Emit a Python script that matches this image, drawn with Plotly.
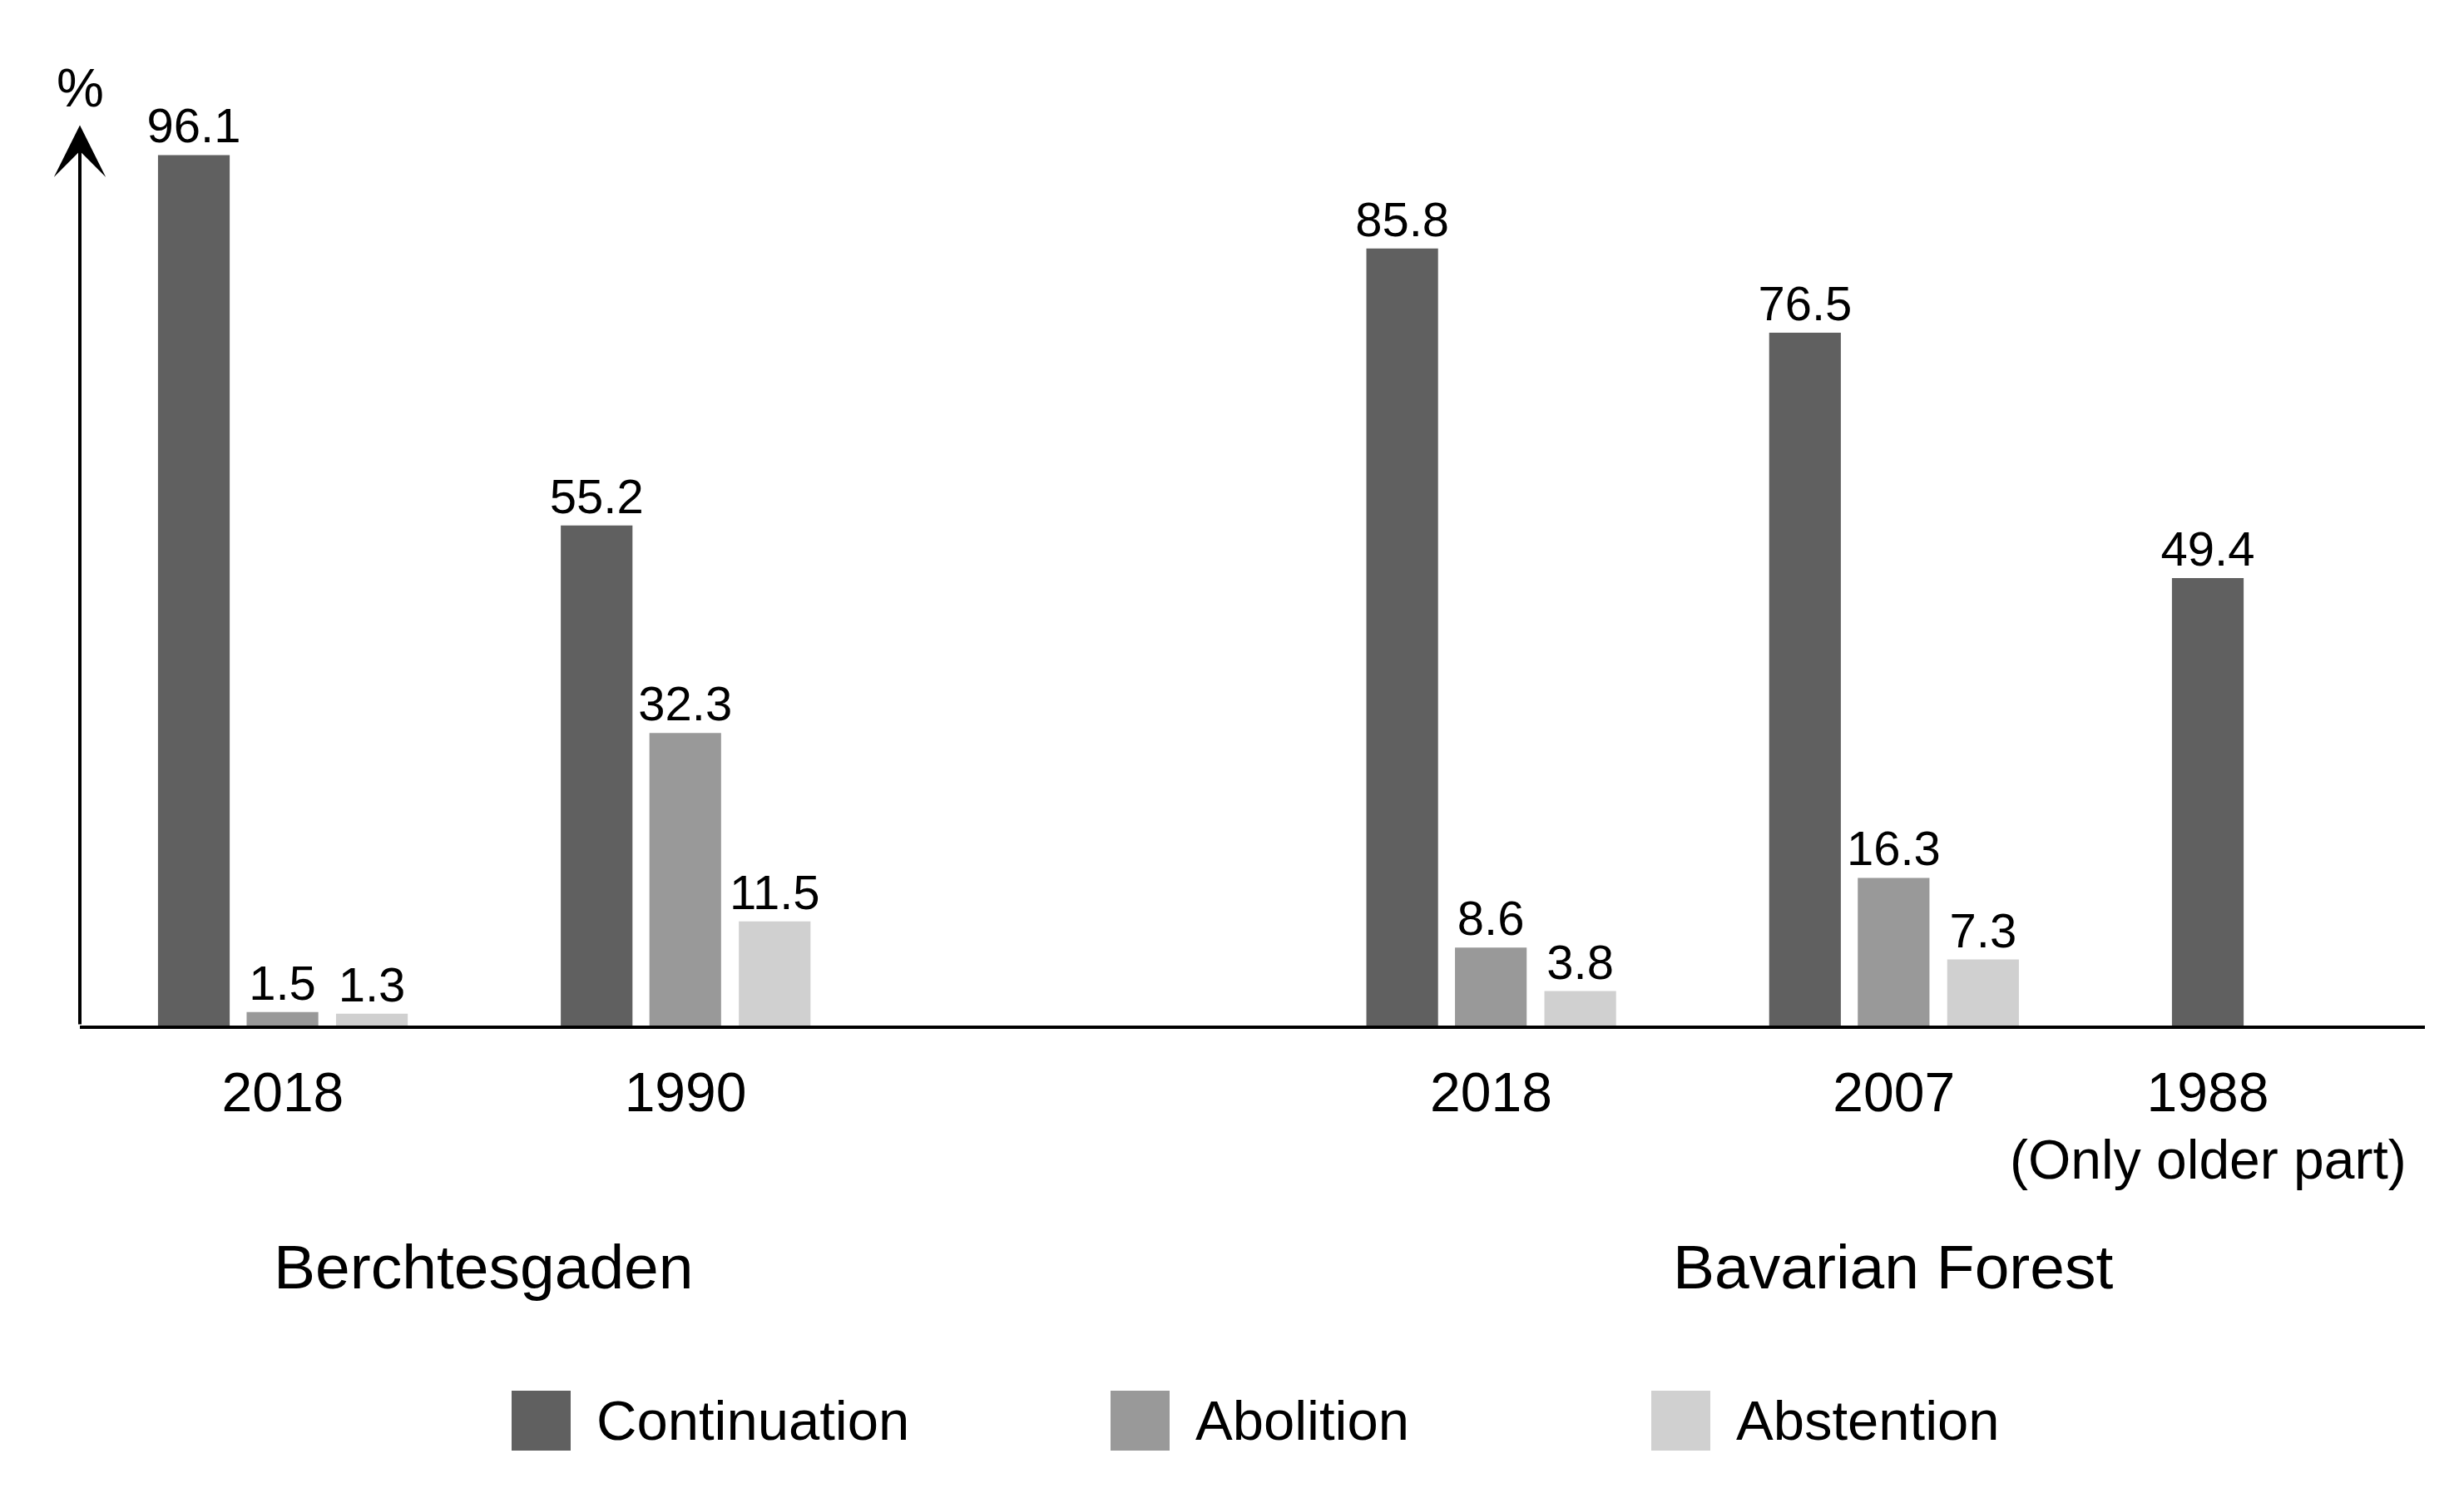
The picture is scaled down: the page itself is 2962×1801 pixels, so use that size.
import plotly.graph_objects as go

# ---------------- data ----------------
regions = ["Berchtesgaden", "Bavarian Forest"]
group_region = [0, 0, 1, 1, 1]
group_slots = [0, 1, 3, 4, 5]          # slot index of each survey group
tick_labels = ["2018", "1990", "2018", "2007", "1988"]
tick_notes = ["", "", "", "", "(Only older part)"]
series_names = ["Continuation", "Abolition", "Abstention"]
continuation = [96.1, 55.2, 85.8, 76.5, 49.4]
abolition = [1.5, 32.3, 8.6, 16.3, None]
abstention = [1.3, 11.5, 3.8, 7.3, None]
colors = ["#606060", "#999999", "#d0d0d0"]

# ---------------- layout constants ----------------
W, H = 2962, 1801
L, R, T, B = 88, 55, 136, 576
PW, PH = W - L - R, H - T - B
FONT = "Liberation Sans, Arial, Helvetica, sans-serif"
offsets = [-0.22, 0.0, 0.222]
bar_w = 0.178
x_range = [-0.503, 5.319]
y_range = [0, 100]


def px_x(px):
    return (px - L) / PW


def px_y(py):
    return (H - B - py) / PH


fig = go.Figure()
series = [continuation, abolition, abstention]
for name, vals, off, col in zip(series_names, series, offsets, colors):
    xs = [g + off for g in group_slots]
    fig.add_trace(go.Bar(
        x=xs, y=vals, width=bar_w, name=name,
        marker=dict(color=col, line=dict(width=0)),
        text=[("" if v is None else f"{v:.1f}") for v in vals],
        textposition="outside", cliponaxis=False, constraintext="none",
        textfont=dict(family=FONT, size=58, color="black"),
        showlegend=False,
    ))

# tick positions: centre of bars present in each group
tickvals = []
for i, g in enumerate(group_slots):
    present = [g + off for vals, off in zip(series, offsets) if vals[i] is not None]
    tickvals.append(sum(present) / len(present))

annotations = []
# second line notes under tick labels
for tv, note in zip(tickvals, tick_notes):
    if note:
        annotations.append(dict(
            x=tv, y=px_y(1386), xref="x", yref="paper", text=note,
            showarrow=False, xanchor="center", yanchor="middle",
            font=dict(family=FONT, size=66, color="black")))

# region labels: centred on their groups' slots
for r, name in enumerate(regions):
    slots = [g for g, gr in zip(group_slots, group_region) if gr == r]
    annotations.append(dict(
        x=(min(slots) + max(slots)) / 2, y=px_y(1515), xref="x", yref="paper",
        text=name, showarrow=False, xanchor="center", yanchor="middle",
        font=dict(family=FONT, size=75, color="black")))

# y axis arrow
annotations.append(dict(
    x=x_range[0], y=99.4, xref="x", yref="y", ax=x_range[0], ay=0,
    axref="x", ayref="y", text="", showarrow=True, arrowhead=3,
    arrowwidth=4, arrowsize=2.6, arrowcolor="black", standoff=0))
annotations.append(dict(
    x=x_range[0], y=px_y(98), xref="x", yref="paper", text="%",
    showarrow=False, xanchor="center", yanchor="middle",
    font=dict(family=FONT, size=64, color="black")))

# custom legend
legend_box_x = [607, 1327, 1977]
box_size = 71
shapes = []
for name, col, bx in zip(series_names, colors, legend_box_x):
    shapes.append(dict(
        type="rect", xref="paper", yref="paper",
        x0=px_x(bx), x1=px_x(bx + box_size),
        y0=px_y(1736), y1=px_y(1736 - box_size - 1),
        fillcolor=col, line=dict(width=0)))
    annotations.append(dict(
        x=px_x(bx + 100), y=px_y(1699), xref="paper", yref="paper",
        text=name, showarrow=False, xanchor="left", yanchor="middle",
        font=dict(family=FONT, size=67, color="black")))

fig.update_layout(
    width=W, height=H,
    margin=dict(l=L, r=R, t=T, b=B, autoexpand=False),
    paper_bgcolor="white", plot_bgcolor="white",
    barmode="overlay",
    showlegend=False,
    font=dict(family=FONT, color="black"),
    xaxis=dict(range=x_range, showgrid=False, zeroline=False,
               showline=True, linecolor="black", linewidth=4,
               tickmode="array", tickvals=tickvals, ticktext=tick_labels,
               ticks="", ticklabelstandoff=20,
               tickfont=dict(family=FONT, size=66, color="black")),
    yaxis=dict(range=y_range, showgrid=False, zeroline=False,
               showline=False, showticklabels=False, ticks=""),
    annotations=annotations, shapes=shapes,
)

fig.write_html("out.html")
